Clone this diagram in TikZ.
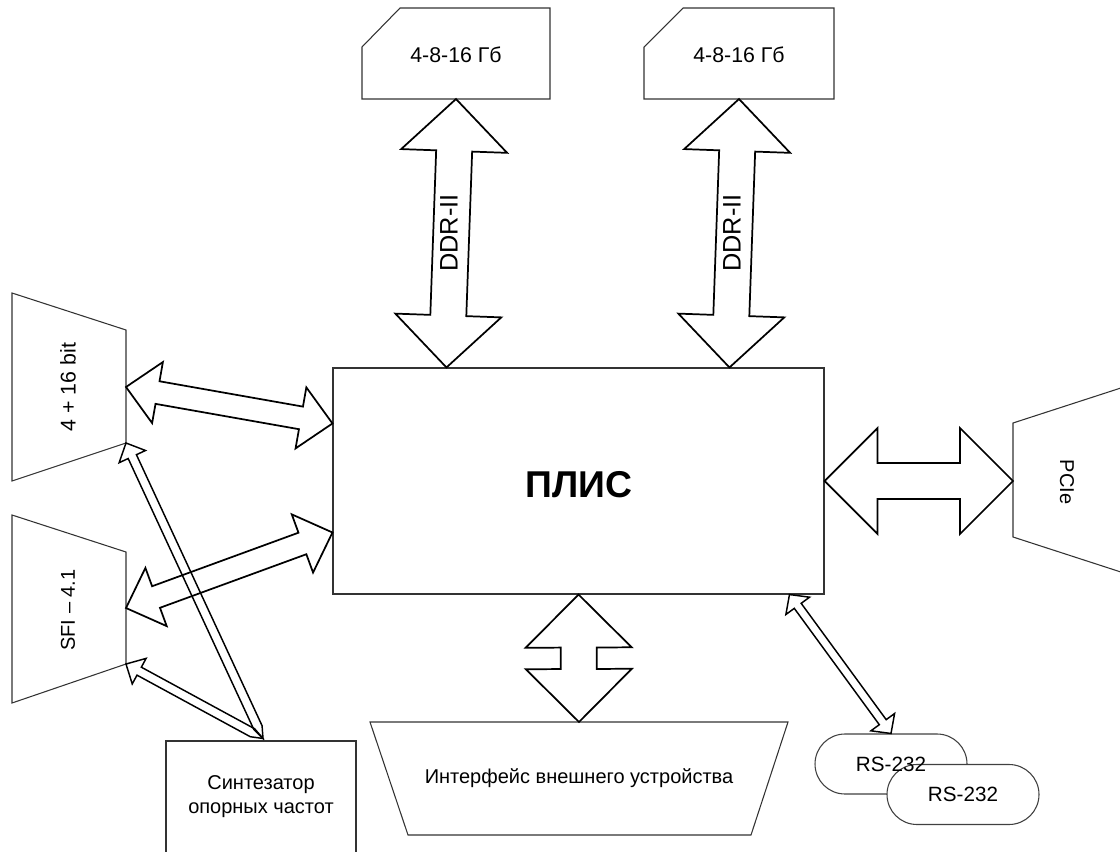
\documentclass[tikz,border=0pt]{standalone}
\usepackage{fontspec}
\setmainfont{Liberation Sans}
\usetikzlibrary{calc,shapes.misc}
\tikzset{
 outline/.style={draw=black!80, line width=0.8pt},
 barrow/.style={draw=black, line width=1.3pt, line join=miter},
 tarrow/.style={draw=black, line width=1.1pt, line join=miter},
 lbl/.style={font=\fontsize{15}{18}\selectfont, inner sep=0pt},
 lblb/.style={font=\fontsize{16}{19}\selectfont, inner sep=0pt},
 stad/.style={rounded rectangle, draw=black!75, line width=0.8pt, fill=white,
   minimum width=152*0.75pt, minimum height=60*0.75pt, inner sep=0pt,
   font=\fontsize{15.5}{18}\selectfont},
}
% double block arrow: [style]{A}{B}{head length}{head half width}{shaft half width}
\newcommand\dblarrow[6][barrow]{%
 \coordinate (da) at ($(#2)!#4!(#3)$);
 \coordinate (db) at ($(#3)!#4!(#2)$);
 \draw[#1] (#2) -- ($(da)!#5!90:(#3)$) -- ($(da)!#6!90:(#3)$)
   -- ($(db)!#6!-90:(#2)$) -- ($(db)!#5!-90:(#2)$) -- (#3)
   -- ($(db)!#5!90:(#2)$) -- ($(db)!#6!90:(#2)$)
   -- ($(da)!#6!-90:(#3)$) -- ($(da)!#5!-90:(#3)$) -- cycle;}
% single arrow, head at A, pointed tail at B
\newcommand\sglarrow[7][tarrow]{%
 \coordinate (sa) at ($(#2)!#4!(#3)$);
 \coordinate (st) at ($(#3)!#7!(#2)$);
 \draw[#1] (#2) -- ($(sa)!#5!90:(#3)$) -- ($(sa)!#6!90:(#3)$)
   -- ($(st)!#6!-90:(#2)$) -- (#3) -- ($(st)!#6!90:(#2)$)
   -- ($(sa)!#6!-90:(#3)$) -- ($(sa)!#5!-90:(#3)$) -- cycle;}
\begin{document}
\begin{tikzpicture}[x=0.75pt,y=-0.75pt]
\useasboundingbox (0,0) rectangle (1120,852);
\clip (0,0) rectangle (1120,852);

% memory cards
\draw[outline] (400,8) -- (550,8) -- (550,99) -- (362,99) -- (362,47) -- cycle;
\node[lblb] (card1) at (456,55) {4-8-16 Гб};
\coordinate (card1s) at (456,99);
\draw[outline] (683,8) -- (834,8) -- (834,99) -- (644,99) -- (644,47) -- cycle;
\node[lblb] (card2) at (739,55) {4-8-16 Гб};
\coordinate (card2s) at (739,99);

% FPGA
\node[outline, minimum width=491*0.75pt, minimum height=226*0.75pt, inner sep=0pt] (plis) at (578.5,481) {};
\node[font=\bfseries\fontsize{28}{32}\selectfont, inner sep=0pt] (plislbl) at (579,485) {ПЛИС};
\coordinate (pd1) at ($(plis.north west)+(114,0)$);
\coordinate (pd2) at ($(plis.north west)+(397,0)$);
\coordinate (pw1) at ($(plis.north west)+(0,56)$);
\coordinate (pw2) at ($(plis.north west)+(0,165)$);
\coordinate (prs) at ($(plis.south west)+(457,0)$);

% left trapezoids
\draw[outline] (12,293) -- (126,330) -- (126,443) coordinate (t1br) -- (12,481) -- cycle;
\coordinate (t1e) at (126,387);
\node[lblb, rotate=90] (t1) at (68,387) {4 + 16 bit};
\draw[outline] (12,515) -- (126,552) -- (126,664) coordinate (t2br) -- (12,703) -- cycle;
\coordinate (t2e) at (126,608);
\node[lbl, rotate=90] (t2) at (68,610) {SFI – 4.1};

% PCIe
\draw[outline] (1013,423) -- (1127,386) -- (1127,574) -- (1013,537) -- cycle;
\coordinate (pciew) at (1013,481);
\node[lbl, rotate=-90] (pcie) at (1067,482) {PCIe};

% external device interface
\draw[outline] (370,722) -- (788,722) -- (751,835) -- (408,835) -- cycle;
\coordinate (ifn) at (579,722);
\node[lbl] (iface) at (579,778) {Интерфейс внешнего устройства};

% synthesizer
\node[outline, lbl, align=center, minimum width=190*0.75pt, minimum height=112*0.75pt] (synth) at (261,797) {Синтезатор\\опорных частот};
\coordinate (syn) at ($(synth.north)+(2,-2)$);

% RS-232
\node[stad] (rs1) at (891,764) {};
\node[stad] (rs2) at (963,794.5) {RS-232};
\node[inner sep=0pt, font=\fontsize{15.5}{18}\selectfont] (rs1lbl) at (rs1) {RS-232};

% block arrows
\dblarrow{card1s}{pd1}{39pt}{39.75pt}{13.5pt}
\dblarrow{card2s}{pd2}{39pt}{39.75pt}{13.5pt}
\node[font=\fontsize{19}{22}\selectfont, inner sep=0pt, rotate=90] (ddr1) at (449,233) {DDR-II};
\node[font=\fontsize{19}{22}\selectfont, inner sep=0pt, rotate=90] (ddr2) at (732,233) {DDR-II};
\dblarrow{t1e}{pw1}{24pt}{23.25pt}{8.6pt}
\dblarrow{t2e}{pw2}{24pt}{23.25pt}{8.6pt}
\dblarrow{plis.east}{pciew}{39.75pt}{39.75pt}{13.5pt}
\dblarrow{plis.south}{ifn}{39.75pt}{39.75pt}{13.5pt}

% thin arrows
\dblarrow[tarrow]{prs}{rs1.north}{10.5pt}{11pt}{3.2pt}
\sglarrow{t1br}{syn}{11.25pt}{10.9pt}{3.4pt}{9pt}
\sglarrow{t2br}{syn}{11.25pt}{10.9pt}{3.4pt}{9pt}
\end{tikzpicture}
\end{document}
